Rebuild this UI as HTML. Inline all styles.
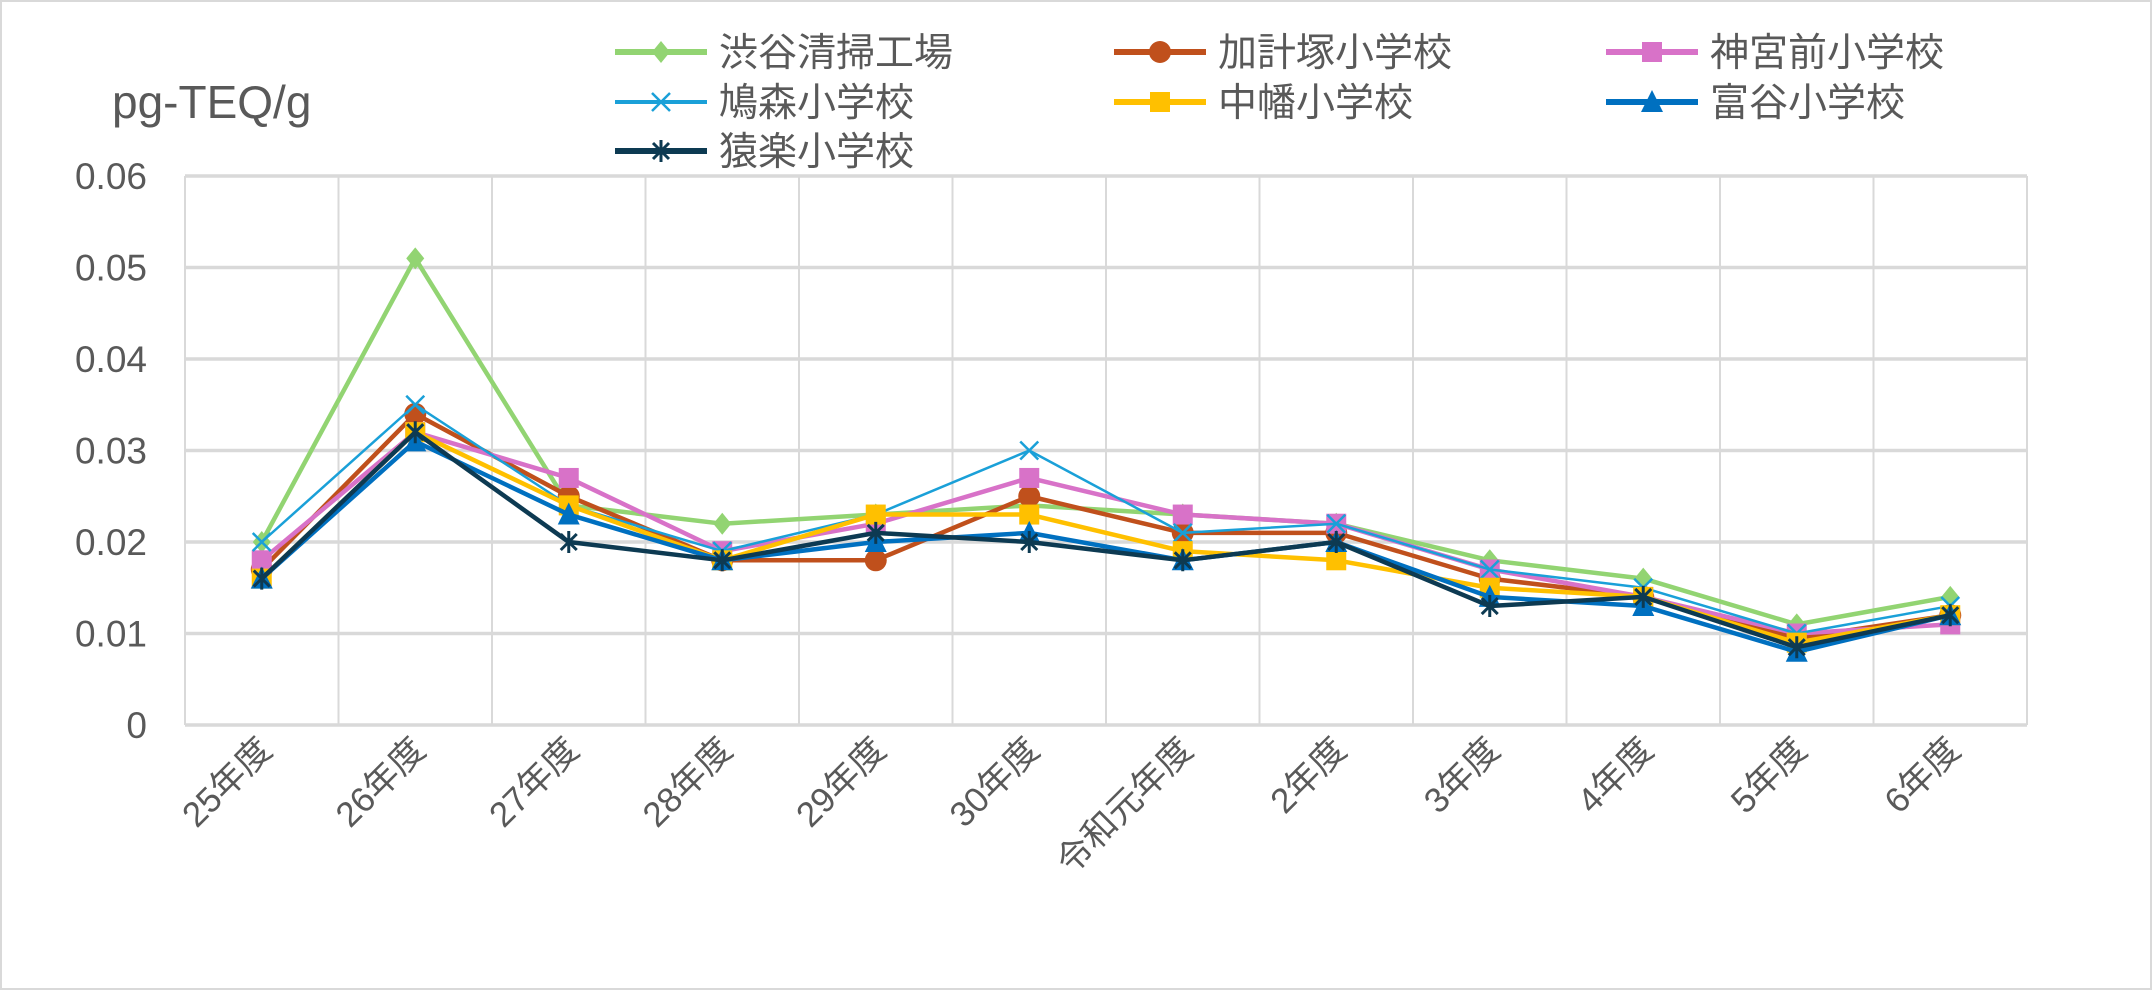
<!DOCTYPE html>
<html><head><meta charset="utf-8"><style>
html,body{margin:0;padding:0;background:#fff}
svg text{font-family:"Liberation Sans Narrow","Liberation Sans","Noto Sans CJK JP",sans-serif;fill:#595959}
</style></head><body>
<svg id="chart" width="2152" height="990" viewBox="0 0 2152 990" xmlns="http://www.w3.org/2000/svg">
<rect x="1" y="1" width="2150" height="988" fill="#fff" stroke="#d9d9d9" stroke-width="2"/>
<text x="112" y="118" font-size="46">pg-TEQ/g</text>
<g id="grid"></g><g id="ticks"></g><g id="series"></g><g id="legend"></g>
</svg>
<script>
const categories=["25年度","26年度","27年度","28年度","29年度","30年度","令和元年度","2年度","3年度","4年度","5年度","6年度"];
const yTicks=[0,0.01,0.02,0.03,0.04,0.05,0.06];
const yTickLabels=["0","0.01","0.02","0.03","0.04","0.05","0.06"];
const seriesNames=["渋谷清掃工場","加計塚小学校","神宮前小学校","鳩森小学校","中幡小学校","富谷小学校","猿楽小学校"];
const shibuya=[0.020,0.051,0.024,0.022,0.023,0.024,0.023,0.022,0.018,0.016,0.011,0.014];
const kakezuka=[0.017,0.034,0.025,0.018,0.018,0.025,0.021,0.021,0.016,0.014,0.0095,0.012];
const jingumae=[0.018,0.032,0.027,0.019,0.022,0.027,0.023,0.022,0.017,0.014,0.010,0.011];
const hatomori=[0.020,0.035,0.024,0.019,0.023,0.030,0.021,0.022,0.017,0.015,0.010,0.013];
const nakahata=[0.016,0.032,0.024,0.018,0.023,0.023,0.019,0.018,0.015,0.014,0.009,0.012];
const tomigaya=[0.016,0.031,0.023,0.018,0.020,0.021,0.018,0.020,0.014,0.013,0.008,0.012];
const sarugaku=[0.016,0.032,0.020,0.018,0.021,0.020,0.018,0.020,0.013,0.014,0.0085,0.012];

const L=185,R=2027,T=176,B=725,yMax=0.06;
const bw=(R-L)/categories.length;
const xs=i=>L+bw*(i+0.5);
const ys=v=>B-(v/yMax)*(B-T);
const NS="http://www.w3.org/2000/svg";
function mk(tag,attrs,parent){const e=document.createElementNS(NS,tag);for(const k in attrs)e.setAttribute(k,attrs[k]);parent.appendChild(e);return e;}
const grid=document.getElementById('grid'),ticks=document.getElementById('ticks'),ser=document.getElementById('series'),leg=document.getElementById('legend');
for(let i=0;i<=categories.length;i++){const x=L+bw*i;
 const l=mk('line',{x1:x,x2:x,y1:T,y2:B,stroke:'#d9d9d9','stroke-width':2},grid);
 
 }
yTicks.forEach((v,i)=>{const y=ys(v);
 const l=mk('line',{x1:L,x2:R,y1:y,y2:y,stroke:'#d9d9d9','stroke-width':3.5},grid);
 
 
 const t=mk('text',{x:147,y:y+13,'font-size':37,'text-anchor':'end'},ticks);t.textContent=yTickLabels[i];
 
 });
categories.forEach((c,i)=>{const x=xs(i)+12,y=752;
 const t=mk('text',{x:x,y:y,'font-size':35,'text-anchor':'end',transform:`rotate(-45 ${x} ${y})`},ticks);t.textContent=c;
 
 });
const data=[shibuya,kakezuka,jingumae,hatomori,nakahata,tomigaya,sarugaku];
const colors=["#92d472","#c0501c","#d872c8","#1aa0d8","#ffc000","#0070c0","#0d3a52"];
const widths=[4.5,4.5,4.5,2.5,4.5,4.5,4.5];
const markers=["diamond","circle","square","x","square","triangle","star"];
function marker(g,type,x,y,c){let e;
 if(type==="diamond")e=mk('polygon',{points:`${x},${y-11} ${x+9},${y} ${x},${y+11} ${x-9},${y}`,fill:c},g);
 else if(type==="circle")e=mk('circle',{cx:x,cy:y,r:11,fill:c},g);
 else if(type==="square")e=mk('rect',{x:x-10,y:y-10,width:20,height:20,fill:c},g);
 else if(type==="triangle")e=mk('polygon',{points:`${x},${y-12} ${x+11},${y+10} ${x-11},${y+10}`,fill:c},g);
 else if(type==="x")e=mk('path',{d:`M${x-9},${y-9}L${x+9},${y+9}M${x+9},${y-9}L${x-9},${y+9}`,stroke:c,'stroke-width':2.5,fill:'none'},g);
 else e=mk('path',{d:`M${x-8},${y-8}L${x+8},${y+8}M${x+8},${y-8}L${x-8},${y+8}M${x},${y-11}L${x},${y+11}`,stroke:c,'stroke-width':3,fill:'none'},g);
 return e;}
data.forEach((arr,s)=>{const g=mk('g',{},ser);
 
 
 const pl=mk('polyline',{points:arr.map((v,i)=>xs(i)+','+ys(v)).join(' '),fill:'none',stroke:colors[s],'stroke-width':widths[s],'stroke-linejoin':'round'},g);
 
 
 arr.forEach((v,i)=>{const m=marker(g,markers[s],xs(i),ys(v),colors[s]);
  
  });});
const lx=[615,1114,1606],lyy=[52,102,151];
seriesNames.forEach((n,s)=>{const col=s%3,row=Math.floor(s/3);const x=lx[col],y=lyy[row];
 const g=mk('g',{},leg);
 
 
 mk('line',{x1:x,x2:x+92,y1:y,y2:y,stroke:colors[s],'stroke-width':widths[s]+1.5},g);
 marker(g,markers[s],x+46,y,colors[s]);
 const t=mk('text',{x:x+104,y:y+14,'font-size':39},g);t.textContent=n;});
</script>
</body></html>
